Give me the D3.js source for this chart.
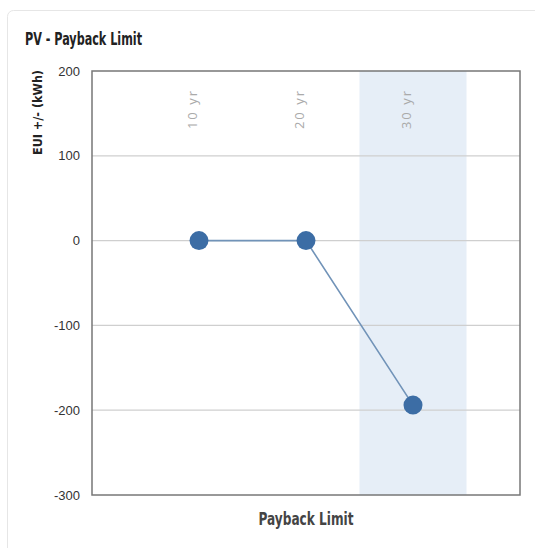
<!DOCTYPE html>
<html>
<head>
<meta charset="utf-8">
<script src="https://cdn.jsdelivr.net/npm/d3@7"></script>
<style>
  body { margin: 0; background: #fff; }
  svg { display: block; }
</style>
</head>
<body>
<svg id="chart" width="535" height="548"></svg>
<script>
// data
const categories = ["10 yr", "20 yr", "30 yr"];
const euiValues = [0, 0, -194];
const yTicks = [200, 100, 0, -100, -200, -300];
const highlighted = "30 yr";

const condensed = "'Liberation Sans Narrow', 'DejaVu Sans Condensed', 'Liberation Sans', sans-serif";

let chart = d3.select("#chart");
const margin = { top: 71, right: 15, bottom: 53, left: 92 };
const innerWidth = 535 - margin.left - margin.right;
const innerHeight = 548 - margin.top - margin.bottom;

// card
chart.append("rect")
      .attr("x", 7.5).attr("y", 10.5)
      .attr("width", 560).attr("height", 560)
      .attr("rx", 6)
      .attr("fill", "#fff")
      .attr("stroke", "#e6e6e6");

chart.append("text")
      .text("PV - Payback Limit")
      .attr("x", 25).attr("y", 45)
      .attr("font-family", condensed)
      .attr("font-weight", "bold")
      .attr("font-size", "17px")
      .attr("textLength", 117)
      .attr("lengthAdjust", "spacingAndGlyphs")
      .attr("fill", "#222");

// scales
const xScale = d3.scalePoint()
      .domain(categories)
      .range([0, innerWidth])
      .padding(1);
const step = xScale.step();

const yScale = d3.scaleLinear()
      .domain([-300, 200])
      .range([innerHeight, 0]);

const g = chart.append("g")
      .attr("transform", `translate(${margin.left},${margin.top})`);

// highlighted band
g.append("rect")
      .attr("x", xScale(highlighted) - step / 2)
      .attr("y", 0)
      .attr("width", step)
      .attr("height", innerHeight)
      .attr("fill", "#e6eef7");

// gridlines
g.selectAll(".grid")
      .data(yTicks.filter(d => d > -300 && d < 200))
      .enter().append("line")
      .attr("x1", 0).attr("x2", innerWidth)
      .attr("y1", d => yScale(d)).attr("y2", d => yScale(d))
      .attr("stroke", "#cfcfcf")
      .attr("stroke-width", 1.2);

// y axis
const yAxisG = g.append("g")
      .call(d3.axisLeft(yScale)
            .tickValues(yTicks)
            .tickFormat(d => String(d))
            .tickSize(0)
            .tickPadding(12));
yAxisG.select(".domain").remove();
yAxisG.selectAll("text")
      .attr("font-family", "'Liberation Sans', Arial, sans-serif")
      .attr("font-size", "13px")
      .attr("fill", "#333");

chart.append("text")
      .text("EUI +/- (kWh)")
      .attr("transform", "translate(42,70) rotate(-90)")
      .attr("text-anchor", "end")
      .attr("font-family", condensed)
      .attr("font-weight", "bold")
      .attr("font-size", "13px")
      .attr("textLength", 85)
      .attr("lengthAdjust", "spacingAndGlyphs")
      .attr("fill", "#222");

// category labels along the top
g.selectAll(".cat")
      .data(categories)
      .enter().append("text")
      .text(d => d)
      .attr("transform", d => `translate(${xScale(d) - 2},18) rotate(-90)`)
      .attr("text-anchor", "end")
      .attr("font-family", "'Open Sans', sans-serif")
      .attr("font-size", "13px")
      .attr("letter-spacing", "2px")
      .attr("fill", "#aaa");

// plot frame
g.append("rect")
      .attr("width", innerWidth)
      .attr("height", innerHeight)
      .attr("fill", "none")
      .attr("stroke", "#777")
      .attr("stroke-width", 1.5);

// line + points
const line = d3.line()
      .x((d, i) => xScale(categories[i]))
      .y(d => yScale(d));

g.append("path")
      .datum(euiValues)
      .attr("d", line)
      .attr("fill", "none")
      .attr("stroke", "#7193b8")
      .attr("stroke-width", 1.6);

g.selectAll(".pt")
      .data(euiValues)
      .enter().append("circle")
      .attr("cx", (d, i) => xScale(categories[i]))
      .attr("cy", d => yScale(d))
      .attr("r", 9.5)
      .attr("fill", "#3c6da5");

// x axis title
chart.append("text")
      .text("Payback Limit")
      .attr("x", margin.left + innerWidth / 2)
      .attr("y", 525)
      .attr("text-anchor", "middle")
      .attr("font-family", condensed)
      .attr("font-weight", "bold")
      .attr("font-size", "17px")
      .attr("textLength", 95)
      .attr("lengthAdjust", "spacingAndGlyphs")
      .attr("fill", "#444");
</script>
</body>
</html>
